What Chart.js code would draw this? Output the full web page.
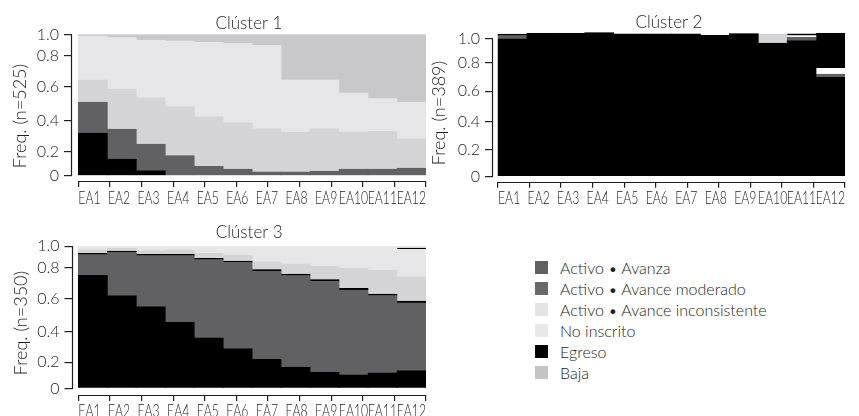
<!DOCTYPE html>
<html>
<head>
<meta charset="utf-8">
<script src="https://cdn.jsdelivr.net/npm/chart.js@4.4.1/dist/chart.umd.min.js"></script>
<style>
  body { margin: 0; background: #fff; }
  #page { position: relative; width: 859px; height: 416px; overflow: hidden; }
  canvas { position: absolute; }
  #key { position: absolute; left: 535px; top: 257px; font: 300 16px Lato, sans-serif; color: #1e1e1e; }
  .row { height: 21px; display: flex; align-items: center; white-space: nowrap; }
  .sw { width: 12.5px; height: 12.5px; margin-right: 12.5px; flex: none; }
</style>
</head>
<body>
<div id="page">
  <canvas id="c1" width="428" height="205" style="left:0;top:0"></canvas>
  <canvas id="c2" width="429" height="205" style="left:430px;top:0"></canvas>
  <canvas id="c3" width="428" height="211" style="left:0;top:205px"></canvas>
  <div id="key"></div>
</div>
<script>
const periods = ['EA1', 'EA2', 'EA3', 'EA4', 'EA5', 'EA6', 'EA7', 'EA8', 'EA9', 'EA10', 'EA11', 'EA12'];
const yTicks = [0, 0.2, 0.4, 0.6, 0.8, 1];

// Clúster 1 (n=525), shares per period, bottom to top
const c1Egreso         = [0.32, 0.139, 0.044, 0, 0, 0, 0, 0, 0, 0, 0, 0];
const c1Avanza         = [0.19, 0.207, 0.206, 0.167, 0.078, 0.056, 0.033, 0.033, 0.039, 0.056, 0.056, 0.064];
const c1Inconsistente  = [0.135, 0.24, 0.285, 0.317, 0.347, 0.333, 0.317, 0.292, 0.311, 0.273, 0.275, 0.22];
const c1NoInscrito     = [0.339, 0.383, 0.411, 0.456, 0.502, 0.525, 0.548, 0.32, 0.295, 0.236, 0.2, 0.226];
const c1Baja           = [0.016, 0.031, 0.054, 0.06, 0.073, 0.086, 0.102, 0.355, 0.355, 0.435, 0.469, 0.49];

// Clúster 2 (n=389)
const c2Egreso         = [0.995, 1.042, 1.042, 1.05, 1.036, 1.036, 1.036, 1.025, 1.038, 0.96, 0.98, 0.695];
const c2Avanza         = [0.027, 0, 0, 0, 0, 0, 0, 0, 0, 0, 0.028, 0.023];
const c2Inconsistente  = [0, 0, 0, 0, 0, 0, 0, 0, 0, 0.076, 0, 0];
const c2SinRegistro    = [0, 0, 0, 0, 0, 0, 0, 0, 0, 0, 0.014, 0.04];
const c2EgresoTardio   = [0.013, 0, 0, 0, 0, 0, 0, 0, 0, 0, 0.014, 0.286];

// Clúster 3 (n=350)
const c3Egreso         = [0.749, 0.621, 0.553, 0.457, 0.36, 0.289, 0.218, 0.162, 0.123, 0.103, 0.118, 0.136];
const c3Avanza         = [0.171, 0.321, 0.358, 0.454, 0.513, 0.56, 0.557, 0.585, 0.588, 0.553, 0.502, 0.44];
const c3Moderado       = [0.01, 0.01, 0.01, 0.01, 0.01, 0.01, 0.01, 0.01, 0.01, 0.01, 0.01, 0.01];
const c3Inconsistente  = [0.034, 0.026, 0.035, 0.043, 0.047, 0.055, 0.066, 0.075, 0.09, 0.129, 0.152, 0.153];
const c3NoInscrito     = [0.036, 0.022, 0.044, 0.036, 0.07, 0.086, 0.149, 0.168, 0.189, 0.205, 0.218, 0.231];
const c3EgresoTardio   = [0, 0, 0, 0, 0, 0, 0, 0, 0, 0, 0, 0.01];
const c3Resto          = [0, 0, 0, 0, 0, 0, 0, 0, 0, 0, 0, 0.02];

const legendLabels = ['Activo • Avanza', 'Activo • Avance moderado', 'Activo • Avance inconsistente', 'No inscrito', 'Egreso', 'Baja'];
const legendColors = ['#606062', '#69696b', '#e4e4e6', '#e8e8ea', '#000000', '#c4c4c6'];

const INK = '#1e1e1e';
const FAMILY = 'Lato, "Open Sans", sans-serif';
const BLACK = '#000000', DARK = '#616163', MID = '#d4d4d6', PALE = '#e6e6e8', BAJA = '#c8c8ca', WHITE = '#ffffff';

Chart.defaults.font.family = FAMILY;
Chart.defaults.color = INK;

// piecewise-linear value axis: knots give where 0, .2, ... 1 sit along the axis
function warp(v, k) {
  let i = Math.floor(v / 0.2);
  i = Math.max(0, Math.min(4, i));
  return k[i] + (v - i * 0.2) / 0.2 * (k[i + 1] - k[i]);
}
function unwarp(u, k) {
  let i = 0;
  while (i < 4 && u > k[i + 1]) i++;
  return (i + (u - k[i]) / (k[i + 1] - k[i])) * 0.2;
}

class WarpedScale extends Chart.LinearScale {
  static id = 'warped';
  static defaults = Chart.LinearScale.defaults;
  getPixelForValue(value) {
    if (value === null || isNaN(value)) return NaN;
    const k = this.options.knots;
    const a = warp(this.min, k), b = warp(this.max, k);
    return this.getPixelForDecimal((warp(value, k) - a) / (b - a));
  }
  getValueForPixel(pixel) {
    const k = this.options.knots;
    const a = warp(this.min, k), b = warp(this.max, k);
    return unwarp(a + this.getDecimalForPixel(pixel) * (b - a), k);
  }
}
Chart.register(WarpedScale);

// axis lines, spread period labels and rotated y title
const frame = {
  id: 'frame',
  afterDraw(chart, args, opts) {
    const { ctx, chartArea } = chart;
    const x = chart.scales.x, y = chart.scales.y;
    ctx.save();
    ctx.strokeStyle = INK;
    ctx.lineWidth = 1.2;
    ctx.beginPath();
    const ax = Math.round(chartArea.left) - 0.5;
    ctx.moveTo(ax, y.getPixelForValue(0));
    ctx.lineTo(ax, y.getPixelForValue(1));
    const by = Math.round(chartArea.bottom) + 0.5;
    ctx.moveTo(x.getPixelForTick(0), by);
    ctx.lineTo(x.getPixelForTick(x.ticks.length - 1), by);
    ctx.stroke();

    ctx.fillStyle = INK;
    ctx.font = '300 17px ' + FAMILY;
    ctx.textBaseline = 'alphabetic';
    const n = x.ticks.length;
    x.ticks.forEach((t, i) => {
      const w = ctx.measureText(periods[i]).width * opts.squeeze;
      const px = x.getPixelForTick(i) - w * i / (n - 1);
      ctx.save();
      ctx.translate(px, chartArea.bottom + opts.labelDrop);
      ctx.scale(opts.squeeze, 1);
      ctx.fillText(periods[i], 0, 0);
      ctx.restore();
    });

    ctx.translate(opts.titleX, opts.titleMid);
    ctx.rotate(-Math.PI / 2);
    ctx.textAlign = 'center';
    ctx.textBaseline = 'middle';
    ctx.font = '300 18px ' + FAMILY;
    ctx.fillText(opts.text, 0, 0);
    ctx.restore();
  }
};

function stackedPanel(canvasId, p) {
  return new Chart(document.getElementById(canvasId), {
    type: 'bar',
    data: {
      labels: periods.map((_, i) => i),
      datasets: p.layers.map(l => ({
        label: l.label,
        data: l.values.map(v => v || null),
        backgroundColor: l.color,
        // same-colour hairline border so the bars get inflated and no seams show
        borderColor: l.color,
        borderWidth: 0.5,
        inflateAmount: 0.5,
        barPercentage: 1,
        categoryPercentage: 1
      }))
    },
    options: {
      responsive: false,
      animation: false,
      layout: { padding: { left: 0, right: p.padRight, top: 0, bottom: 0 } },
      scales: {
        x: {
          type: 'linear',
          stacked: true,
          offset: false,
          min: p.xMin,
          max: 11.5,
          afterBuildTicks: s => { s.ticks = periods.map((_, k) => ({ value: -0.5 + k * 12 / 11 })); },
          afterFit: s => { s.height = p.xAxisH; },
          ticks: { display: false },
          grid: { offset: false, drawOnChartArea: false, tickLength: 6, color: INK, lineWidth: 1.2 },
          border: { display: false }
        },
        y: {
          type: 'warped',
          position: 'left',
          stacked: true,
          min: p.yMin,
          max: p.yMax,
          knots: p.knots,
          afterBuildTicks: s => { s.ticks = yTicks.map(v => ({ value: v })); },
          afterFit: s => { s.width = p.axisW; },
          ticks: {
            callback: v => (v === 0 ? '0' : v.toFixed(1)),
            font: { size: 16, weight: '300' },
            color: INK,
            padding: 5
          },
          grid: { drawOnChartArea: false, tickLength: 8, color: INK, lineWidth: 1.2 },
          border: { display: false }
        }
      },
      plugins: {
        legend: { display: false },
        tooltip: { enabled: false },
        title: {
          display: true,
          text: p.title,
          fullSize: false,
          color: INK,
          font: { size: 17, weight: '300', lineHeight: 1 },
          padding: p.titlePad
        },
        frame: { text: p.yTitle, titleX: p.yTitleX, titleMid: p.yTitleMid, labelDrop: p.labelDrop, squeeze: 0.72 }
      }
    },
    plugins: [frame]
  });
}

stackedPanel('c1', {
  title: 'Clúster 1', yTitle: 'Freq. (n=525)',
  layers: [
    { label: 'Egreso', color: BLACK, values: c1Egreso },
    { label: 'Activo • Avanza', color: DARK, values: c1Avanza },
    { label: 'Activo • Avance inconsistente', color: MID, values: c1Inconsistente },
    { label: 'No inscrito', color: PALE, values: c1NoInscrito },
    { label: 'Baja', color: BAJA, values: c1Baja }
  ],
  yMin: -0.042, yMax: 1, knots: [0, 0.170, 0.389, 0.629, 0.848, 1],
  xMin: -0.717, axisW: 72, padRight: 2, xAxisH: 24,
  titlePad: { top: 14.8, bottom: 2.7 },
  yTitleX: 20, yTitleMid: 116, labelDrop: 23
});

stackedPanel('c2', {
  title: 'Clúster 2', yTitle: 'Freq. (n=389)',
  layers: [
    { label: 'Egreso', color: BLACK, values: c2Egreso },
    { label: 'Activo • Avanza', color: DARK, values: c2Avanza },
    { label: 'Activo • Avance inconsistente', color: MID, values: c2Inconsistente },
    { label: 'Sin registro', color: WHITE, values: c2SinRegistro },
    { label: 'Egreso tardío', color: BLACK, values: c2EgresoTardio }
  ],
  yMin: -0.0375, yMax: 1.05, knots: [0, 0.194, 0.400, 0.619, 0.825, 1],
  xMin: -0.673, axisW: 63, padRight: 14, xAxisH: 23.3,
  titlePad: { top: 14.2, bottom: 1.2 },
  yTitleX: 9, yTitleMid: 113, labelDrop: 22.3
});

stackedPanel('c3', {
  title: 'Clúster 3', yTitle: 'Freq. (n=350)',
  layers: [
    { label: 'Egreso', color: BLACK, values: c3Egreso },
    { label: 'Activo • Avanza', color: DARK, values: c3Avanza },
    { label: 'Activo • Avance moderado', color: BLACK, values: c3Moderado },
    { label: 'Activo • Avance inconsistente', color: MID, values: c3Inconsistente },
    { label: 'No inscrito', color: PALE, values: c3NoInscrito },
    { label: 'Egreso tardío', color: BLACK, values: c3EgresoTardio },
    { label: 'No inscrito (final)', color: PALE, values: c3Resto }
  ],
  yMin: -0.05, yMax: 1, knots: [0, 0.184, 0.397, 0.629, 0.851, 1],
  xMin: -0.7, axisW: 72.5, padRight: 2, xAxisH: 21,
  titlePad: { top: 19, bottom: 5.2 },
  yTitleX: 21.5, yTitleMid: 118, labelDrop: 21.5
});

// shared key
const key = document.getElementById('key');
legendLabels.forEach((label, i) => {
  const row = document.createElement('div');
  row.className = 'row';
  const sw = document.createElement('span');
  sw.className = 'sw';
  sw.style.background = legendColors[i];
  row.appendChild(sw);
  row.appendChild(document.createTextNode(label));
  key.appendChild(row);
});
</script>
</body>
</html>
